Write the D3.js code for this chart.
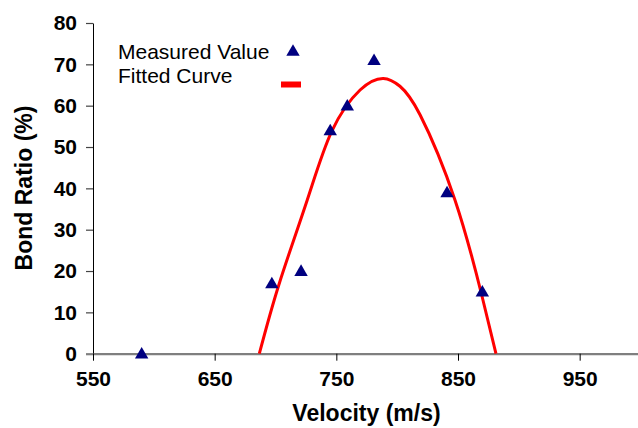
<!DOCTYPE html>
<html>
<head>
<meta charset="utf-8">
<script src="https://cdn.jsdelivr.net/npm/d3@7"></script>
<style>
  html, body { margin: 0; padding: 0; background: #fff; }
  svg { display: block; font-family: "Liberation Sans", Arial, sans-serif; }
</style>
</head>
<body>
<svg id="chart" width="638" height="428"></svg>
<script>
// Measured bond ratio at each impact velocity
const velocity = [590, 697, 721, 745, 759, 781, 841, 870];
const bondRatio = [0, 17, 20, 54, 60, 71, 39, 15];

// Fitted curve, sampled along its length
const fitVelocity = [686.7, 703.1, 726.1, 746.2, 769.5, 788.6, 802.3, 818.8, 847.5, 869.5, 881.2];
const fitRatio    = [0,     17.0,  37.2,  53.8,  63.8,  66.6,  64.7,  57.8,  37.2,  14.2,  0];

const xTicks = [550, 650, 750, 850, 950];
const yTicks = [0, 10, 20, 30, 40, 50, 60, 70, 80];

const svg = d3.select("#chart");

const x = d3.scaleLinear().domain([550, 1000]).range([93, 640.5]);
const y = d3.scaleLinear().domain([0, 80]).range([353.7, 23]);

// Y axis
const yAxis = svg.append("g")
  .attr("transform", "translate(93,0)")
  .call(d3.axisLeft(y).tickValues(yTicks).tickSize(7).tickSizeOuter(0).tickPadding(9));
yAxis.select(".domain").attr("stroke", "#000").attr("stroke-width", 1);
yAxis.selectAll(".tick line").attr("stroke", "#444").attr("stroke-width", 1.2);
yAxis.selectAll(".tick text")
  .attr("font-size", 21).attr("font-weight", "bold").attr("fill", "#000")
  .attr("font-family", "Liberation Sans, Arial, sans-serif");

// X axis
const xAxis = svg.append("g")
  .attr("transform", "translate(0,353.7)")
  .call(d3.axisBottom(x).tickValues(xTicks).tickSize(7).tickSizeOuter(0).tickPadding(10));
xAxis.select(".domain").attr("stroke", "#7f7f7f").attr("stroke-width", 2.2);
xAxis.selectAll(".tick line").attr("stroke", "#000").attr("stroke-width", 1);
xAxis.selectAll(".tick text")
  .attr("font-size", 21).attr("font-weight", "bold").attr("fill", "#000")
  .attr("font-family", "Liberation Sans, Arial, sans-serif");
// the 0 tick of the y axis sits on the grey baseline
yAxis.selectAll(".tick").filter(d => d === 0).select("line").attr("stroke", "#7f7f7f").attr("stroke-width", 2.2);

// Axis titles
svg.append("text")
  .attr("x", 366.5).attr("y", 421)
  .attr("text-anchor", "middle")
  .attr("font-size", 23).attr("font-weight", "bold")
  .text("Velocity (m/s)");

svg.append("text")
  .attr("transform", "translate(32,188) rotate(-90)")
  .attr("text-anchor", "middle")
  .attr("font-size", 23).attr("font-weight", "bold")
  .text("Bond Ratio (%)");

// Fitted curve
const line = d3.line()
  .x((d, i) => x(fitVelocity[i]))
  .y((d, i) => y(fitRatio[i]))
  .curve(d3.curveNatural);

svg.append("path")
  .datum(fitVelocity)
  .attr("d", line)
  .attr("fill", "none")
  .attr("stroke", "#ff0000")
  .attr("stroke-width", 3);

// Measured points as triangles
const tri = d3.symbol().type(d3.symbolTriangle).size(78);
svg.append("g").selectAll("path")
  .data(velocity)
  .join("path")
  .attr("d", tri)
  .attr("transform", (d, i) => `translate(${x(d)},${y(bondRatio[i]) + 1})`)
  .attr("fill", "#000080");

// Legend
const legend = svg.append("g");
legend.append("text").attr("x", 118).attr("y", 59)
  .attr("font-size", 21).text("Measured Value");
legend.append("text").attr("x", 118).attr("y", 82.5)
  .attr("font-size", 21).text("Fitted Curve");
legend.append("path")
  .attr("d", tri)
  .attr("transform", "translate(293,52)")
  .attr("fill", "#000080");
legend.append("line")
  .attr("x1", 281).attr("x2", 301).attr("y1", 84.5).attr("y2", 84.5)
  .attr("stroke", "#ff0000").attr("stroke-width", 6);
</script>
</body>
</html>
